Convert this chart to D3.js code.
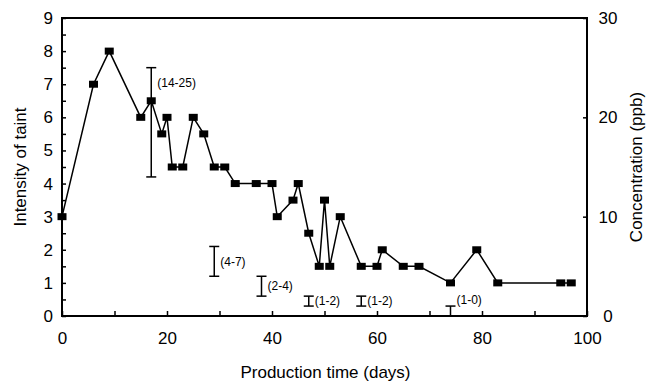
<!DOCTYPE html>
<html>
<head>
<meta charset="utf-8">
<script src="https://cdn.jsdelivr.net/npm/d3@7"></script>
<style>
  body { margin: 0; background: #fff; }
  svg text { font-family: "Liberation Sans", Arial, Helvetica, sans-serif; fill: #000; }
</style>
</head>
<body>
<svg id="chart" width="647" height="381"></svg>
<script>
// taint intensity over production time
const days = [0, 6, 9, 15, 17, 19, 20, 21, 23, 25, 27, 29, 31, 33, 37, 40, 41, 44, 45, 47, 49, 50, 51, 53, 57, 60, 61, 65, 68, 74, 79, 83, 95, 97];
const taint = [3, 7, 8, 6, 6.5, 5.5, 6, 4.5, 4.5, 6, 5.5, 4.5, 4.5, 4, 4, 4, 3, 3.5, 4, 2.5, 1.5, 3.5, 1.5, 3, 1.5, 1.5, 2, 1.5, 1.5, 1, 2, 1, 1, 1];

// concentration ranges (ppb), right axis
const rangeDays = [17, 29, 38, 47, 57, 74];
const rangeLow = [14, 4, 2, 1, 1, 0];
const rangeHigh = [25, 7, 4, 2, 2, 1];
const rangeLabels = ["(14-25)", "(4-7)", "(2-4)", "(1-2)", "(1-2)", "(1-0)"];

const xTicks = [0, 10, 20, 30, 40, 50, 60, 70, 80, 90, 100];
const yTicks = d3.range(0, 9.01, 0.5);
const y2Ticks = [0, 10, 20, 30];

function drawChart() {
    let svg = d3.select("#chart");
    let mLeft = 62, mRight = 587, mTop = 18, mBottom = 316;

    let x = d3.scaleLinear().domain([0, 100]).range([mLeft, mRight]);
    let y = d3.scaleLinear().domain([0, 9]).range([mBottom, mTop]);
    let y2 = d3.scaleLinear().domain([0, 30]).range([mBottom, mTop]);

    // x axis, ticks point inward
    let gx = svg.append("g")
        .attr("transform", "translate(0," + mBottom + ")")
        .call(d3.axisBottom(x).tickValues(xTicks).tickSize(-5).tickPadding(16)
            .tickFormat(d => d % 20 == 0 ? d : ""));
    gx.select(".domain").remove();
    gx.selectAll("line").attr("stroke-width", 1.5);
    gx.selectAll("text").style("font-size", "17px");

    // left axis
    let gy = svg.append("g")
        .attr("transform", "translate(" + mLeft + ",0)")
        .call(d3.axisLeft(y).tickValues(yTicks).tickSize(-4).tickPadding(9)
            .tickFormat(d => Number.isInteger(d) ? d : ""));
    gy.select(".domain").remove();
    gy.selectAll("line").attr("stroke-width", 1.5);
    gy.selectAll("text").style("font-size", "17px");

    // right axis (ppb)
    let gy2 = svg.append("g")
        .attr("transform", "translate(" + mRight + ",0)")
        .call(d3.axisRight(y2).tickValues(y2Ticks).tickSize(-4).tickPadding(21));
    gy2.select(".domain").remove();
    gy2.selectAll("line").attr("stroke-width", 1.5);
    gy2.selectAll("text").style("font-size", "17px").attr("text-anchor", "middle");

    // frame
    svg.append("rect")
        .attr("x", mLeft).attr("y", mTop)
        .attr("width", mRight - mLeft).attr("height", mBottom - mTop)
        .attr("fill", "none").attr("stroke", "#000").attr("stroke-width", 2);

    // range bars
    let bars = svg.append("g").attr("stroke", "#000").attr("stroke-width", 1.5);
    rangeDays.forEach(function(d, i) {
        let cx = x(d), yt = y2(rangeHigh[i]), yb = y2(rangeLow[i]);
        bars.append("line").attr("x1", cx).attr("x2", cx).attr("y1", yt).attr("y2", yb);
        bars.append("line").attr("x1", cx - 5).attr("x2", cx + 5).attr("y1", yt).attr("y2", yt);
        if (rangeLow[i] > 0) {
            bars.append("line").attr("x1", cx - 5).attr("x2", cx + 5).attr("y1", yb).attr("y2", yb);
        }
        let ly;
        if (rangeLow[i] == 0) ly = yt - 6;
        else ly = Math.min((yt + yb) / 2, yt + 15);
        svg.append("text")
            .attr("x", cx + 6).attr("y", ly).attr("dy", "0.35em")
            .style("font-size", "12px")
            .text(rangeLabels[i]);
    });

    // taint line
    let line = d3.line().x((d, i) => x(days[i])).y(d => y(d));
    svg.append("path")
        .datum(taint)
        .attr("d", line)
        .attr("fill", "none")
        .attr("stroke", "#000")
        .attr("stroke-width", 1.5);

    svg.selectAll("rect.pt")
        .data(taint)
        .join("rect")
        .attr("class", "pt")
        .attr("x", (d, i) => x(days[i]) - 4.5)
        .attr("y", d => y(d) - 3.5)
        .attr("width", 9)
        .attr("height", 7)
        .attr("fill", "#000");

    // titles
    svg.append("text")
        .attr("x", (mLeft + mRight) / 2 + 1).attr("y", 378)
        .attr("text-anchor", "middle")
        .style("font-size", "17px")
        .text("Production time (days)");

    svg.append("text")
        .attr("transform", "translate(26,167) rotate(-90)")
        .attr("text-anchor", "middle")
        .style("font-size", "17px")
        .text("Intensity of taint");

    svg.append("text")
        .attr("transform", "translate(642,167) rotate(-90)")
        .attr("text-anchor", "middle")
        .style("font-size", "17px")
        .text("Concentration (ppb)");
}
drawChart();
</script>
</body>
</html>
